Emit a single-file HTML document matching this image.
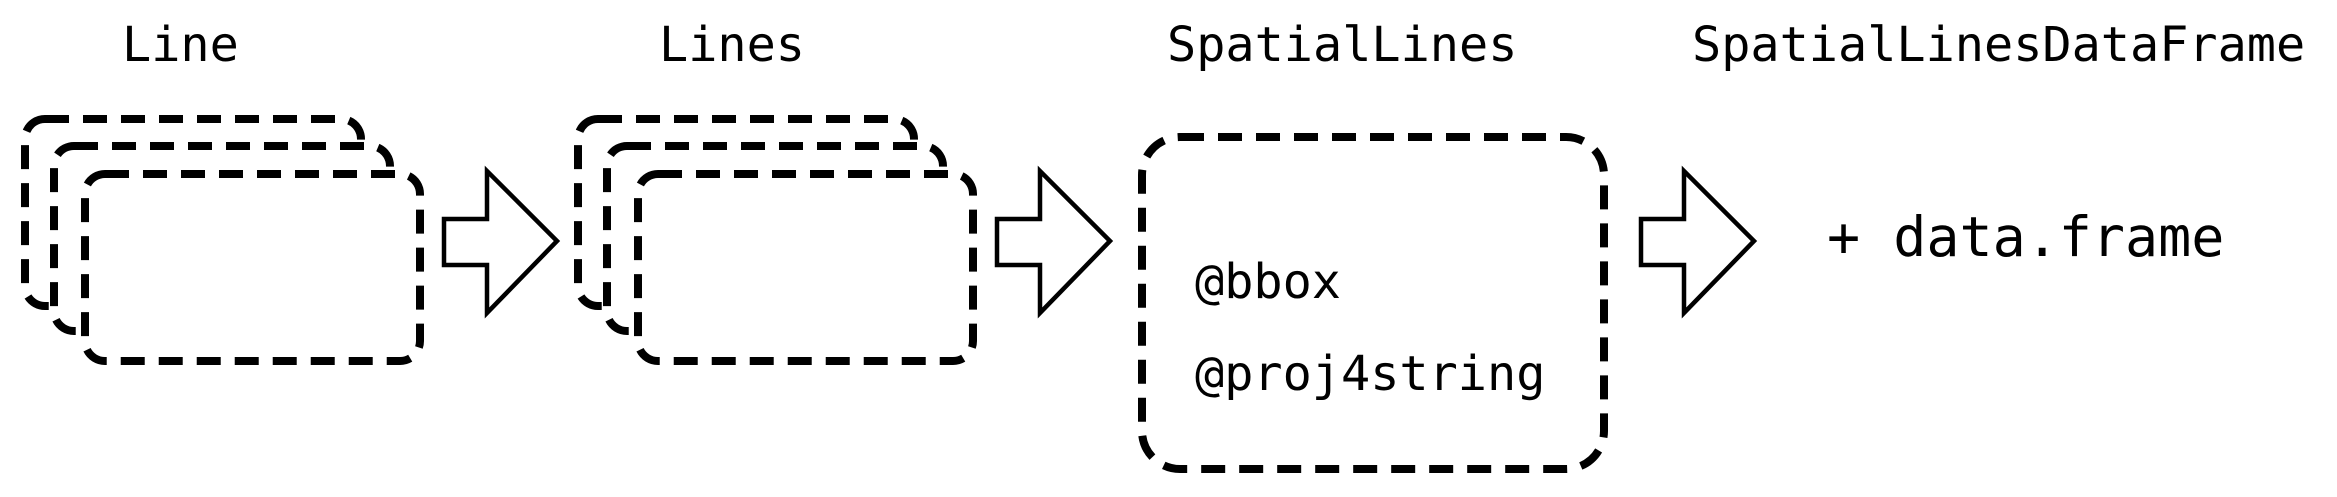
<!DOCTYPE html>
<html><head><style>
html,body{margin:0;padding:0;background:#fff;width:2337px;height:497px;overflow:hidden}
svg text{font-family:"DejaVu Sans Mono","Liberation Mono",monospace;fill:#000}
</style></head><body>
<svg width="2337" height="497" viewBox="0 0 2337 497" xmlns="http://www.w3.org/2000/svg">
<defs>
<g id="stack" fill="#fff" stroke="#000" stroke-width="8" stroke-dasharray="24 14">
<rect x="25" y="119" width="336" height="187" rx="20"/>
<rect x="54" y="146" width="336" height="185" rx="20"/>
<rect x="85" y="174" width="335" height="187" rx="20"/>
</g>
<path id="arr" d="M0 219 H43 V171 L113 241 L43 313 V265 H0 Z" fill="#fff" stroke="#000" stroke-width="4.5"/>
</defs>
<text x="122" y="61" font-size="48.5">Line</text>
<text x="659" y="61" font-size="48.5">Lines</text>
<text x="1167" y="61" font-size="48.5">SpatialLines</text>
<text x="1692" y="61" font-size="48.5">SpatialLinesDataFrame</text>
<use href="#stack"/>
<use href="#stack" x="553"/>
<use href="#arr" x="444"/>
<use href="#arr" x="997"/>
<use href="#arr" x="1641"/>
<rect x="1142" y="137" width="462" height="332" rx="38" fill="none" stroke="#000" stroke-width="8" stroke-dasharray="24 14"/>
<text x="1195" y="298" font-size="48.5">@bbox</text>
<text x="1195" y="390" font-size="48.5">@proj4string</text>
<text x="1827" y="256" font-size="55">+ data.frame</text>
</svg>
</body></html>
